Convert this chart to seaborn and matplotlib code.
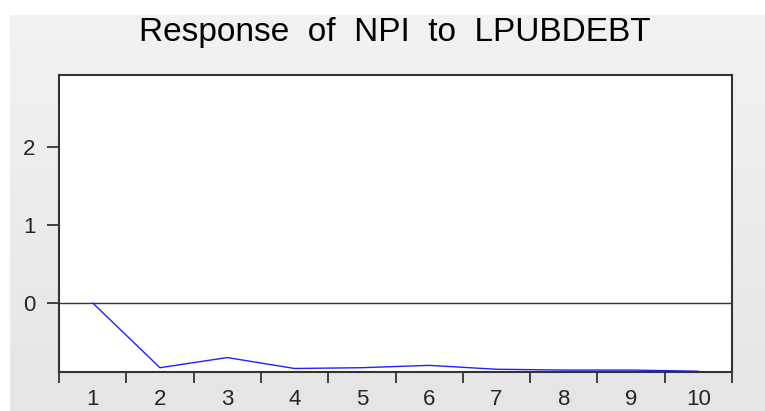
import seaborn as sns
import numpy as np
import pandas as pd
import matplotlib.pyplot as plt

periods = [1, 2, 3, 4, 5, 6, 7, 8, 9, 10]
response = [0.0, -0.83, -0.70, -0.84, -0.83, -0.80, -0.85, -0.86, -0.86, -0.875]
ytick_vals = [0, 1, 2]

df = pd.DataFrame({'period': periods, 'response': response})

sns.set_style("white")
plt.rcParams['font.family'] = ['Liberation Sans', 'DejaVu Sans']

fig = plt.figure(figsize=(7.65, 4.11), dpi=100)
fig.patch.set_facecolor('white')

# grey window background of the screenshot, slightly darker towards the bottom
bg = fig.add_axes([10 / 765, 0, 755 / 765, 1 - 15 / 411], zorder=-10)
grad = np.linspace(0.945, 0.895, 100).reshape(-1, 1)
bg.imshow(grad, cmap='gray', vmin=0, vmax=1, aspect='auto', extent=[0, 1, 0, 1], origin='upper')
bg.set_axis_off()

ax = fig.add_axes([59 / 765, 39 / 411, 673 / 765, 297 / 411])
ax.set_facecolor('white')

sns.lineplot(data=df, x='period', y='response', color='#2020ff', linewidth=1.0, ax=ax)
ax.axhline(0, color='#333333', linewidth=1.0, zorder=1)

ax.set_xlim(0.5, 10.5)
ax.set_ylim(-0.885, 2.92)

ax.set_xticks(periods)
ax.set_xticklabels([str(p) for p in periods])
ax.set_xticks(np.arange(0.5, 11, 1), minor=True)
ax.tick_params(axis='x', which='major', length=0, pad=12, labelsize=16)
ax.tick_params(axis='x', which='minor', length=8, width=1.3, color='#333333', direction='out', bottom=True)

ax.set_yticks(ytick_vals)
ax.tick_params(axis='y', which='major', length=9, width=1.3, color='#333333', direction='out',
               left=True, pad=8, labelsize=16)

for s in ax.spines.values():
    s.set_color('#333333')
    s.set_linewidth(1.5)

ax.set_xlabel('')
ax.set_ylabel('')

fig.text(395 / 765, 1 - 33 / 411, 'Response  of  NPI  to  LPUBDEBT', ha='center', va='center',
         fontsize=24, color='black')

plt.savefig('out.png', dpi=100)
